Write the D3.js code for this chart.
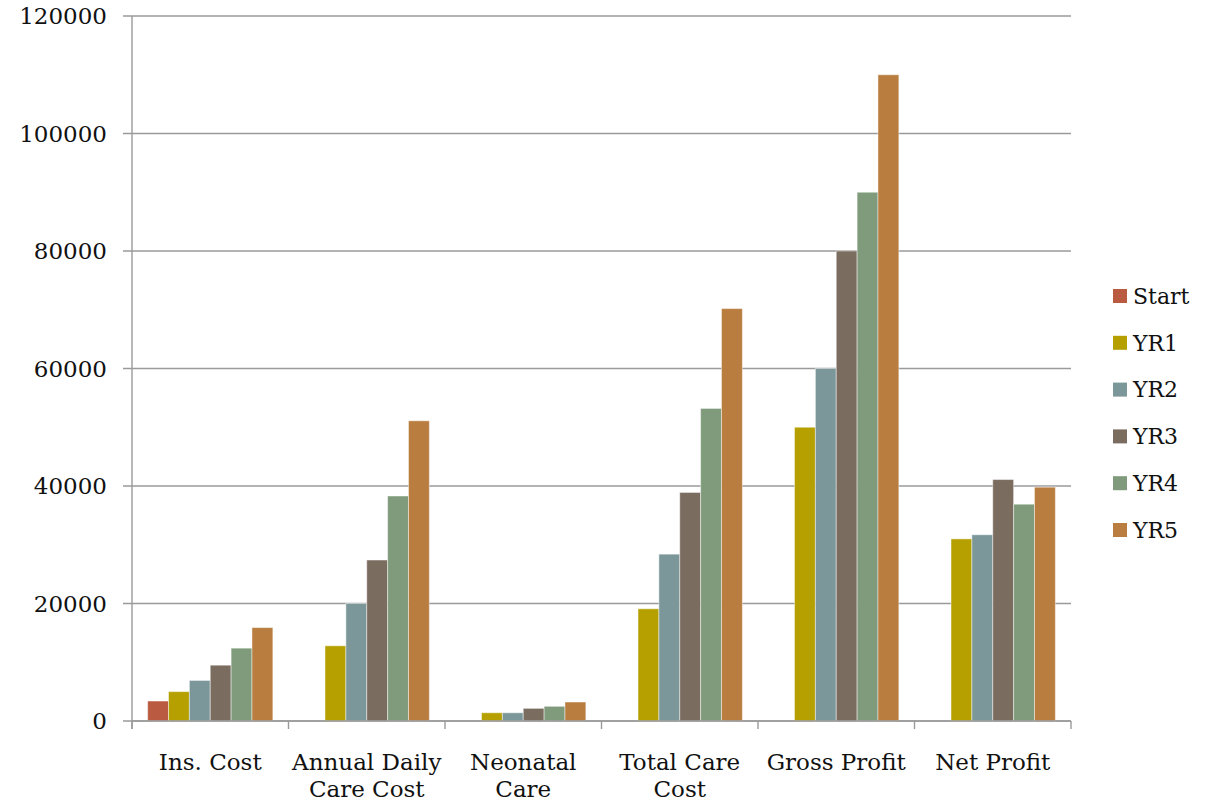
<!DOCTYPE html>
<html><head><meta charset="utf-8">
<script src="https://cdn.jsdelivr.net/npm/d3@7"></script>
<style>body{margin:0;background:#fff}svg{display:block}text{font-family:"DejaVu Serif",Georgia,serif;fill:#111}</style>
</head><body><svg id="c" width="1206" height="802"></svg>
<script>
const categories = ["Ins. Cost", "Annual Daily|Care Cost", "Neonatal|Care", "Total Care|Cost", "Gross Profit", "Net Profit"];
const seriesNames = ["Start", "YR1", "YR2", "YR3", "YR4", "YR5"];
const seriesColors = ["#BA5A41", "#B5A000", "#7B9799", "#7B6C60", "#7F9B7B", "#B97D3F"];
const startVals = [3400, 0, 0, 0, 0, 0];
const yr1Vals = [5000, 12800, 1400, 19100, 50000, 31000];
const yr2Vals = [6900, 20000, 1400, 28400, 60000, 31700];
const yr3Vals = [9500, 27400, 2150, 38900, 80000, 41100];
const yr4Vals = [12400, 38300, 2500, 53200, 90000, 36900];
const yr5Vals = [15900, 51100, 3230, 70200, 110000, 39800];
const yTicks = [0, 20000, 40000, 60000, 80000, 100000, 120000];
const seriesVals = [startVals, yr1Vals, yr2Vals, yr3Vals, yr4Vals, yr5Vals];

const svg = d3.select("#c");
const L = 132, R = 1071, T = 16, B = 721;
const y = d3.scaleLinear().domain([0, 120000]).range([B, T]);
const x = d3.scaleBand().domain(categories).range([L, R]).paddingInner(0.2).paddingOuter(0.1);
const xs = d3.scaleBand().domain(seriesNames).range([0, x.bandwidth()]);
const grid = "#9a9a9a";

// gridlines
svg.append("g").selectAll("line").data(yTicks).join("line")
  .attr("x1", L - 9).attr("x2", R).attr("y1", d => y(d)).attr("y2", d => y(d))
  .attr("stroke", grid).attr("stroke-width", 1.4);
// y axis line
svg.append("line").attr("x1", L).attr("x2", L).attr("y1", T).attr("y2", B + 8)
  .attr("stroke", grid).attr("stroke-width", 1.4);
// y labels
svg.append("g").selectAll("text").data(yTicks).join("text")
  .attr("x", 107).attr("y", d => y(d)).attr("dy", "0.35em").attr("text-anchor", "end")
  .style("font-size", "23px").text(d => d);

// bars
const g = svg.append("g");
categories.forEach((c, ci) => {
  seriesNames.forEach((s, si) => {
    const v = seriesVals[si][ci];
    if (!v) return;
    g.append("rect")
      .attr("x", x(c) + xs(s)).attr("width", xs.bandwidth())
      .attr("y", y(v)).attr("height", y(0) - y(v))
      .attr("fill", seriesColors[si]).attr("stroke", "rgba(255,255,255,0.45)").attr("stroke-width", 1);
  });
});

// x axis ticks at boundaries
const bounds = categories.map((c, i) => L + i * x.step()).concat([R]);
svg.append("g").selectAll("line").data(bounds).join("line")
  .attr("x1", d => d).attr("x2", d => d).attr("y1", B).attr("y2", B + 8)
  .attr("stroke", grid).attr("stroke-width", 1.4);
svg.append("line").attr("x1", L).attr("x2", R).attr("y1", B).attr("y2", B)
  .attr("stroke", grid).attr("stroke-width", 1.4);

// x labels
categories.forEach(c => {
  const cx = x(c) + x.bandwidth() / 2;
  const lines = c.split("|");
  const t = svg.append("text").attr("text-anchor", "middle").style("font-size", "23px");
  lines.forEach((ln, i) => t.append("tspan").attr("x", cx).attr("y", 770 + i * 27).text(ln));
});

// legend
const lg = svg.append("g");
seriesNames.forEach((s, i) => {
  const cy = 296 + i * 46.8;
  lg.append("rect").attr("x", 1113).attr("y", cy - 7).attr("width", 14).attr("height", 14).attr("fill", seriesColors[i]);
  lg.append("text").attr("x", 1133).attr("y", cy).attr("dy", "0.35em").style("font-size", "22px").text(s);
});
</script></body></html>
